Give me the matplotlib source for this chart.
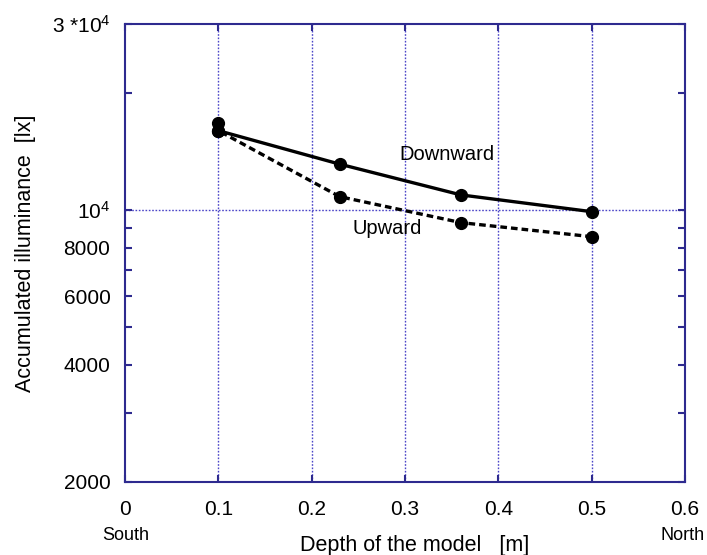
import matplotlib
matplotlib.use("Agg")
import matplotlib.pyplot as plt
from matplotlib.ticker import FixedLocator, FixedFormatter, NullFormatter

plt.rcParams['font.family'] = ['Liberation Sans', 'DejaVu Sans']
plt.rcParams['mathtext.fontset'] = 'custom'
plt.rcParams['mathtext.rm'] = 'Liberation Sans'
plt.rcParams['mathtext.it'] = 'Liberation Sans'

# data
depth_down = [0.1, 0.23, 0.36, 0.5]
downward = [15970, 13100, 10920, 9890]
depth_up = [0.1, 0.1, 0.23, 0.36, 0.5]
upward = [16700, 15970, 10810, 9270, 8530]

x_ticks = [0, 0.1, 0.2, 0.3, 0.4, 0.5, 0.6]
x_tick_labels = ['0', '0.1', '0.2', '0.3', '0.4', '0.5', '0.6']
y_major = [2000, 4000, 6000, 8000, 10000, 30000]
y_major_labels = ['2000', '4000', '6000', '8000', r'$10^4$', r'3 *$10^4$']
y_minor = [3000, 5000, 7000, 9000, 20000]

spine_col = '#2e2a8f'
grid_col = '#4b45c8'

fig = plt.figure(figsize=(7.07, 5.55), dpi=100)
ax = fig.add_axes([125/707, 73/555, 560/707, 458/555])
ax.set_yscale('log')
ax.set_xlim(0, 0.6)
ax.set_ylim(2000, 30000)

ax.plot(depth_down, downward, color='black', lw=2.4, marker='o', ms=8.5, zorder=5)
ax.plot(depth_up, upward, color='black', lw=2.4, ls=(0, (2.0, 1.2)), marker='o', ms=8.5, zorder=5)

# grid
for xv in x_ticks[1:-1]:
    ax.axvline(xv, color=grid_col, lw=1.0, ls=(0, (1.2, 1.2)), zorder=1)
ax.axhline(10000, color=grid_col, lw=1.0, ls=(0, (1.2, 1.2)), zorder=1)

for s in ax.spines.values():
    s.set_color(spine_col)
    s.set_linewidth(1.5)

ax.xaxis.set_major_locator(FixedLocator(x_ticks))
ax.xaxis.set_major_formatter(FixedFormatter(x_tick_labels))
ax.yaxis.set_major_locator(FixedLocator(y_major))
ax.yaxis.set_major_formatter(FixedFormatter(y_major_labels))
ax.yaxis.set_minor_locator(FixedLocator(y_minor))
ax.yaxis.set_minor_formatter(NullFormatter())
ax.xaxis.set_minor_locator(FixedLocator([]))

ax.tick_params(axis='both', which='both', direction='in', color=spine_col,
               top=True, right=True, width=1.5, labelsize=15)
ax.tick_params(axis='y', which='both', length=5, pad=10.5)
ax.tick_params(axis='x', which='major', length=5, pad=13)

ax.text(0.3445, 13900, 'Downward', fontsize=14.5, ha='center', va='center')
ax.text(0.281, 8950, 'Upward', fontsize=14.5, ha='center', va='center')

fig.text(126/707, 1 - 535/555, 'South', fontsize=13, ha='center', va='center')
fig.text(683/707, 1 - 535/555, 'North', fontsize=13, ha='center', va='center')
fig.text(415/707, 1 - 545/555, 'Depth of the model   [m]', fontsize=15.5, ha='center', va='center')
fig.text(26/707, 1 - 253/555, 'Accumulated illuminance  [lx]', fontsize=15.5,
         ha='center', va='center', rotation=90)

fig.savefig('out.png', dpi=100)
